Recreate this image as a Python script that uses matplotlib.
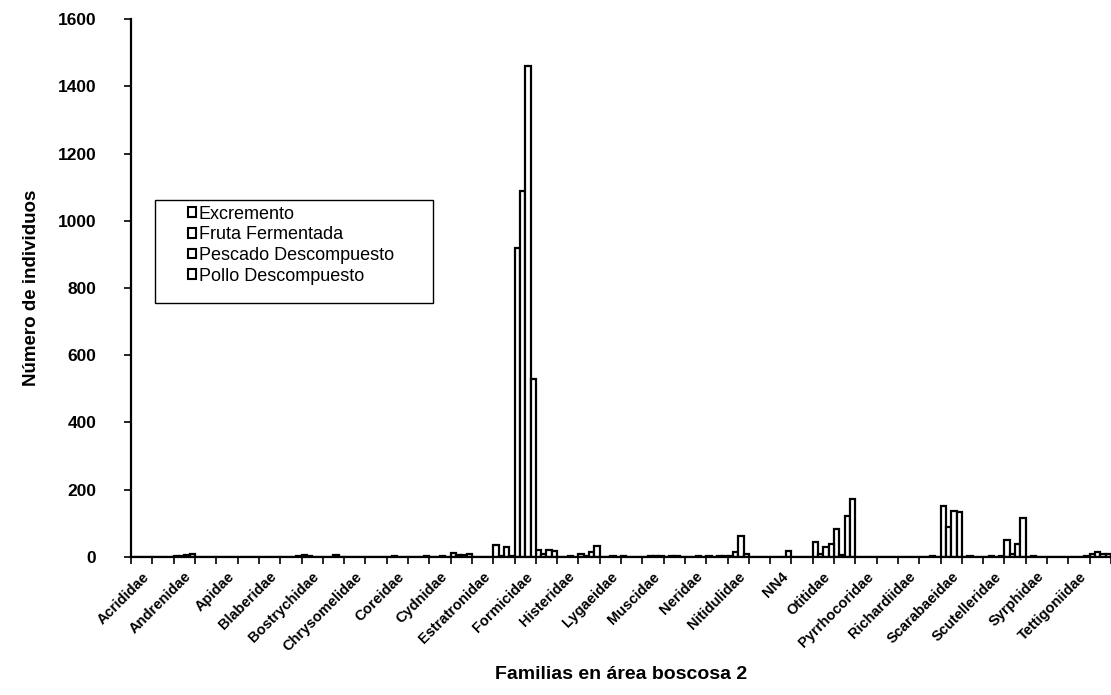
import numpy as np
import matplotlib
matplotlib.use("Agg")
import matplotlib.pyplot as plt
from matplotlib.patches import Rectangle

plt.rcParams['font.family'] = ['Liberation Sans', 'DejaVu Sans']

# Insect families (only every second name is printed on the axis)
families = [
    "Acrididae", "Alydidae", "Andrenidae", "Anthomyiidae", "Apidae", "Asilidae",
    "Blaberidae", "Blattidae", "Bostrychidae", "Carabidae", "Chrysomelidae",
    "Cicadellidae", "Coreidae", "Curculionidae", "Cydnidae", "Drosophilidae",
    "Estratronidae", "Forficulidae", "Formicidae", "Gryllidae", "Histeridae",
    "Lauxaniidae", "Lygaeidae", "Miridae", "Muscidae", "Mycetophilidae",
    "Neridae", "Nicrophoridae", "Nitidulidae", "NN3", "NN4", "Noctuidae",
    "Otitidae", "Phoridae", "Pyrrhocoridae", "Reduviidae", "Richardiidae",
    "Sarcophagidae", "Scarabaeidae", "Sciaridae", "Scutelleridae",
    "Staphylinidae", "Syrphidae", "Tephritidae", "Tettigoniidae", "Vespidae",
]

# Individuals caught per bait type
excremento = [0, 0, 2, 1, 0, 0, 0, 1, 5, 0, 1, 0, 1, 0, 1, 12, 1, 37, 920, 20,
              1, 8, 1, 4, 0, 1, 1, 2, 4, 1, 0, 0, 45, 83, 1, 0, 0, 1, 152, 1,
              1, 50, 1, 0, 1, 8]
fruta = [1, 0, 3, 1, 1, 0, 0, 0, 2, 1, 0, 1, 2, 1, 0, 5, 0, 3, 1090, 8,
         0, 3, 0, 1, 3, 3, 1, 1, 14, 0, 0, 0, 8, 5, 0, 0, 1, 1, 88, 2,
         2, 10, 2, 1, 0, 16]
pescado = [0, 1, 6, 0, 0, 1, 0, 1, 1, 5, 1, 0, 1, 1, 2, 7, 1, 31, 1460, 22,
           2, 16, 2, 0, 4, 4, 2, 2, 63, 1, 1, 0, 30, 122, 1, 1, 0, 2, 137, 1,
           1, 40, 1, 0, 1, 10]
pollo = [1, 0, 10, 0, 0, 0, 1, 4, 1, 1, 0, 1, 0, 2, 1, 8, 0, 2, 530, 18,
         1, 32, 1, 0, 4, 1, 1, 3, 9, 0, 17, 0, 38, 172, 0, 0, 0, 1, 134, 0,
         3, 117, 0, 0, 3, 8]

series_names = ["Excremento", "Fruta Fermentada", "Pescado Descompuesto",
                "Pollo Descompuesto"]
series_values = [excremento, fruta, pescado, pollo]

fig = plt.figure(figsize=(11.11, 6.95), dpi=100)
ax = fig.add_axes([0.118, 0.1986, 0.882, 0.774])

n = len(families)
x = np.arange(n)
w = 0.25
for k, vals in enumerate(series_values):
    ax.bar(x + (k + 0.5) * w, vals, width=w, align="center",
           facecolor="white", edgecolor="black", linewidth=1.6, zorder=2)

ax.set_xlim(0, n)
ax.set_ylim(0, 1600)
ax.set_yticks(np.arange(0, 1601, 200))
ax.tick_params(axis="y", direction="out", length=5, width=1.2,
               labelsize=12.5, pad=20)
for lbl in ax.get_yticklabels():
    lbl.set_fontweight("bold")

# Tick marks at category boundaries, names under every second category
ax.set_xticks(np.arange(0, n + 1))
ax.set_xticklabels([])
ax.tick_params(axis="x", which="major", direction="out", length=5, width=1.2)
label_idx = np.arange(0, n, 2)
ax.set_xticks(label_idx + 0.5, minor=True)
ax.set_xticklabels([families[i] for i in label_idx], minor=True,
                   rotation=45, ha="right", va="top", rotation_mode="anchor",
                   fontsize=10.5, fontweight="bold")
ax.tick_params(axis="x", which="minor", length=0, pad=9)

for side in ("top", "right"):
    ax.spines[side].set_visible(False)
for side in ("left", "bottom"):
    ax.spines[side].set_linewidth(1.6)

ax.set_xlabel("Familias en área boscosa 2", fontsize=14, fontweight="bold",
              labelpad=9)
ax.set_ylabel("Número de individuos", fontsize=13.5, fontweight="bold",
              labelpad=13)

# Legend inside a plain rectangular frame
ax.add_patch(Rectangle((0.0245, 0.472), 0.2837, 0.192, transform=ax.transAxes,
                       facecolor="white", edgecolor="black", linewidth=1.0,
                       zorder=3))
handles = [Rectangle((0, 0), 1, 1, facecolor="white", edgecolor="black",
                     linewidth=1.5) for _ in series_names]
leg = ax.legend(handles, series_names, loc="upper left",
                bbox_to_anchor=(0.058, 0.653), frameon=False,
                handlelength=0.45, handleheight=0.45, handletextpad=0.15,
                labelspacing=0.2, borderpad=0, borderaxespad=0,
                fontsize=13)
leg.set_zorder(4)

fig.savefig("out.png", dpi=100)
